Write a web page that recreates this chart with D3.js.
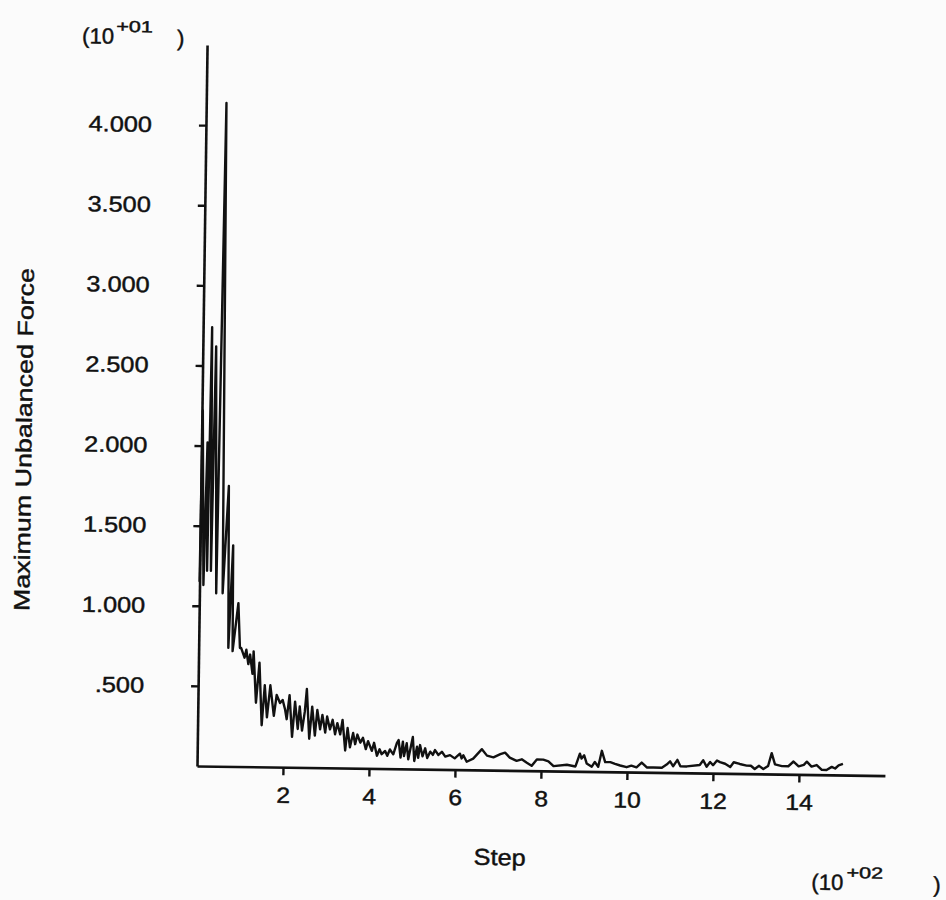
<!DOCTYPE html>
<html><head><meta charset="utf-8">
<script src="https://cdn.jsdelivr.net/npm/d3@7"></script>
<style>
html,body{margin:0;padding:0;background:#fbfbfb;}
svg{display:block;}
text{font-family:"Liberation Sans",Arial,Helvetica,sans-serif;fill:#111;stroke:#111;stroke-width:0.45px;}
</style></head><body>
<svg id="chart" width="946" height="900"></svg>
<script>
// ---- data (step, maximum unbalanced force in units of 10^+01) ----
const steps = [0,2,9,14,17,21,26,31,39,47,54,65,69,77,79,91,96,99,103,107,111,116,120,126,128,135,142,149,155,161,168,177,183,191,197,203,207,213,220,226,233,237,243,249,253,260,266,273,278,285,290,297,301,308,314,320,325,332,337,344,349,355,362,367,372,379,385,392,397,406,411,418,424,429,437,442,448,456,464,468,473,478,481,487,491,501,505,511,514,518,524,530,535,542,548,553,561,569,577,588,599,611,615,619,627,642,662,674,689,705,716,727,743,755,766,778,790,805,817,829,860,880,890,894,900,906,918,925,933,941,949,961,972,984,999,1010,1022,1034,1046,1061,1081,1092,1100,1107,1117,1124,1139,1169,1177,1185,1193,1200,1209,1216,1228,1240,1248,1262,1278,1288,1297,1307,1317,1328,1336,1344,1360,1375,1387,1399,1411,1418,1429,1441,1453,1464,1476,1484,1492,1502];
const force = [1.15,2.22,1.13,2.02,1.22,2.74,1.22,2.62,1.08,4.14,1.08,1.75,0.74,1.38,0.72,1.02,0.74,0.74,0.71,0.68,0.73,0.64,0.70,0.58,0.72,0.40,0.65,0.26,0.51,0.31,0.51,0.32,0.45,0.40,0.42,0.36,0.30,0.45,0.19,0.41,0.24,0.38,0.23,0.35,0.49,0.18,0.38,0.20,0.36,0.24,0.33,0.22,0.32,0.24,0.30,0.21,0.28,0.21,0.30,0.11,0.25,0.13,0.22,0.15,0.21,0.16,0.19,0.12,0.17,0.11,0.16,0.08,0.12,0.09,0.11,0.08,0.12,0.09,0.16,0.18,0.07,0.17,0.08,0.16,0.06,0.20,0.05,0.14,0.07,0.15,0.08,0.13,0.07,0.11,0.09,0.12,0.09,0.11,0.08,0.09,0.07,0.10,0.07,0.09,0.05,0.07,0.13,0.09,0.08,0.10,0.11,0.08,0.06,0.07,0.05,0.03,0.07,0.07,0.06,0.03,0.04,0.03,0.11,0.08,0.10,0.05,0.03,0.06,0.03,0.13,0.06,0.06,0.05,0.04,0.03,0.04,0.03,0.06,0.03,0.03,0.03,0.05,0.07,0.04,0.08,0.04,0.04,0.05,0.08,0.04,0.07,0.05,0.08,0.07,0.06,0.04,0.07,0.06,0.05,0.05,0.03,0.05,0.03,0.05,0.13,0.06,0.05,0.05,0.08,0.05,0.06,0.08,0.05,0.06,0.03,0.03,0.05,0.04,0.06,0.07];

const xTickValues = [200,400,600,800,1000,1200,1400];
const xTickLabels = ["2","4","6","8","10","12","14"];
const yTickValues = [0.5,1.0,1.5,2.0,2.5,3.0,3.5,4.0];
const yTickLabels = [".500","1.000","1.500","2.000","2.500","3.000","3.500","4.000"];
const xTitle = "Step";
const yTitle = "Maximum Unbalanced Force";
const xExponent = "+02";
const yExponent = "+01";

// ---- layout ----
const x = d3.scaleLinear().domain([0,1600]).range([197,885]);
const y = d3.scaleLinear().domain([0,4.5]).range([766,45]);

function stretch(sel, f){
  sel.each(function(){
    const l = this.getComputedTextLength();
    this.setAttribute("textLength", (l*f).toFixed(1));
    this.setAttribute("lengthAdjust","spacingAndGlyphs");
  });
}

const svg = d3.select("#chart");
svg.append("rect").attr("width",946).attr("height",900).attr("fill","#fbfbfb");
const g = svg.append("g").attr("transform","rotate(0.8,197,766)");

// x axis
const gx = g.append("g").attr("transform",`translate(0,${y(0)})`)
  .call(d3.axisBottom(x).tickValues(xTickValues).tickFormat((d,i)=>xTickLabels[i])
    .tickSize(8).tickPadding(12).tickSizeOuter(0));
// y axis
const gy = g.append("g").attr("transform",`translate(${x(0)},0)`)
  .call(d3.axisLeft(y).tickValues(yTickValues).tickFormat((d,i)=>yTickLabels[i])
    .tickSize(7).tickPadding(47).tickSizeOuter(0));

[gx,gy].forEach(a=>{
  a.attr("font-family",null).attr("font-size",null);
  a.select(".domain").attr("stroke","#111").attr("stroke-width",2.6);
  a.selectAll(".tick line").attr("stroke","#111").attr("stroke-width",2.4);
  a.selectAll(".tick text").attr("fill","#111").style("font-size","22px");
});
stretch(gx.selectAll(".tick text"), 1.12);
stretch(gy.selectAll(".tick text"), 1.15);

// data line
const pts = steps.map((s,i)=>[s, force[i]]);
g.append("path").datum(pts)
  .attr("fill","none").attr("stroke","#111").attr("stroke-width",2.4)
  .attr("stroke-linejoin","round")
  .attr("d", d3.line().x(d=>x(d[0])).y(d=>y(d[1])));

// titles
g.append("text").attr("x",501).attr("y",861).attr("text-anchor","middle")
  .style("font-size","23px").text(xTitle).call(s=>stretch(s,1.1));
g.append("text").attr("transform","translate(27,442) rotate(-90)").attr("text-anchor","middle")
  .style("font-size","22px").text(yTitle).call(s=>stretch(s,1.22));

// exponent labels
function expo(x0, base, sup, xSup, xClose){
  g.append("text").attr("x",x0).attr("y",base).style("font-size","22px").text("(10").call(s=>stretch(s,1.0));
  g.append("text").attr("x",xSup).attr("y",base-12).style("font-size","16px").text(sup).call(s=>stretch(s,1.35));
  g.append("text").attr("x",xClose).attr("y",base+1).style("font-size","22px").text(")").call(s=>stretch(s,1.0));
}
expo(72, 45, yExponent, 106, 167);
expo(813, 881, xExponent, 848, 935);
</script>
</body></html>
